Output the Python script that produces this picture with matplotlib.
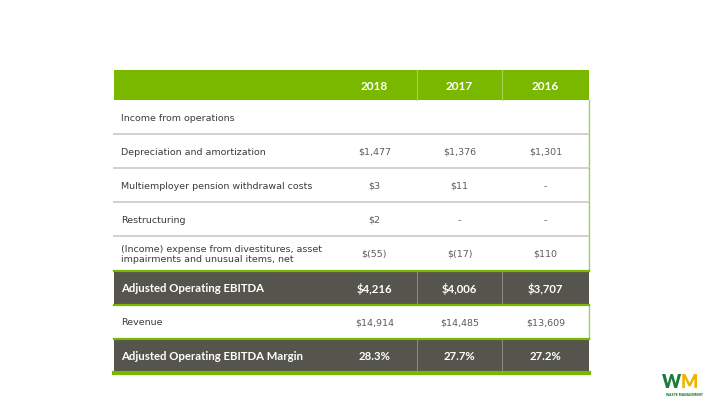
import matplotlib
matplotlib.use("Agg")
import matplotlib.pyplot as plt
from matplotlib.patches import Rectangle
from matplotlib import font_manager

# ---- data ----
years = ["2018", "2017", "2016"]
row_labels = [
    "Income from operations",
    "Depreciation and amortization",
    "Multiemployer pension withdrawal costs",
    "Restructuring",
    "(Income) expense from divestitures, asset\nimpairments and unusual items, net",
    "Adjusted Operating EBITDA",
    "Revenue",
    "Adjusted Operating EBITDA Margin",
]
col_2018 = ["", "$1,477", "$3", "$2", "$(55)", "$4,216", "$14,914", "28.3%"]
col_2017 = ["", "$1,376", "$11", "-", "$(17)", "$4,006", "$14,485", "27.7%"]
col_2016 = ["", "$1,301", "-", "-", "$110", "$3,707", "$13,609", "27.2%"]
highlight = [False, False, False, False, False, True, False, True]

# ---- style ----
GREEN = "#7ab800"
DARK = "#55554d"
LINE = "#d2d2cb"
LABEL_C = "#3c3c3c"
VAL_C = "#5c5c5c"

font = "DejaVu Sans"
names = {f.name for f in font_manager.fontManager.ttflist}
if "Lato" in names:
    bold_font, bold_size = ["Lato", "DejaVu Sans"], 8.2
else:
    bold_font, bold_size = ["DejaVu Sans"], 6.8

fig = plt.figure(figsize=(7.2, 4.05), dpi=100)
ax = fig.add_axes([0, 0, 1, 1])
ax.set_xlim(0, 720)
ax.set_ylim(405, 0)
ax.axis("off")

left, right = 114, 589
col_edges = [left, 332, 417, 502, right]
header_top, header_bot = 70, 100
row_h = 34.1

# header
ax.add_patch(Rectangle((left, header_top), right - left, header_bot - header_top,
                       color=GREEN, lw=0, zorder=1))
for x in col_edges[2:4]:
    ax.plot([x, x], [header_top, header_bot], color="#a6d45a", lw=0.8, zorder=2)
for i, y in enumerate(years):
    cx = (col_edges[i + 1] + col_edges[i + 2]) / 2
    ax.text(cx, (header_top + header_bot) / 2 + 1, y, color="white", fontsize=bold_size + 0.3,
            fontweight="bold", ha="center", va="center", family=bold_font, zorder=3)

cols = [col_2018, col_2017, col_2016]
for r, lab in enumerate(row_labels):
    y0 = header_bot + r * row_h
    y1 = y0 + row_h
    ym = (y0 + y1) / 2 + 1
    if highlight[r]:
        ax.add_patch(Rectangle((left, y0), right - left, row_h, color=DARK, lw=0, zorder=1))
        for x in col_edges[2:4]:
            ax.plot([x, x], [y0, y1], color="#8a8a82", lw=0.8, zorder=2)
        ax.plot([left, right], [y0, y0], color=GREEN, lw=1.6, zorder=3)
        ax.plot([left, right], [y1, y1], color=GREEN, lw=1.6 if r < len(row_labels) - 1 else 3.0,
                zorder=3)
        ax.text(left + 7, ym, lab, color="white", fontsize=bold_size, fontweight="bold",
                ha="left", va="center", family=bold_font, zorder=3)
        for i, c in enumerate(cols):
            cx = (col_edges[i + 1] + col_edges[i + 2]) / 2
            ax.text(cx, ym, c[r], color="white", fontsize=bold_size, fontweight="bold",
                    ha="center", va="center", family=bold_font, zorder=3)
    else:
        ax.plot([right, right], [y0, y1], color="#9fcc63", lw=1.0, zorder=2)
        if r < len(row_labels) - 1 and not highlight[r + 1]:
            ax.plot([left, right], [y1, y1], color=LINE, lw=1.4, zorder=2)
        ax.text(left + 7, ym, lab, color=LABEL_C, fontsize=6.8, ha="left", va="center",
                family=font, linespacing=1.25, zorder=3)
        for i, c in enumerate(cols):
            cx = (col_edges[i + 1] + col_edges[i + 2]) / 2
            ax.text(cx, ym, c[r], color=VAL_C, fontsize=6.8, ha="center", va="center",
                    family=font, zorder=3)

# logo
ax.text(662, 388.5, "W", color="#1a7a3a", fontsize=13, fontweight="heavy", ha="left",
        va="baseline", family=bold_font)
ax.text(681, 388.5, "M", color="#f0b400", fontsize=13, fontweight="heavy", ha="left",
        va="baseline", family=bold_font)
ax.text(684, 392.5, "WASTE MANAGEMENT", color="#1a7a3a", fontsize=2.2, fontweight="bold",
        ha="center", va="top", family=font)

fig.savefig("out.png", dpi=100, facecolor="white")
